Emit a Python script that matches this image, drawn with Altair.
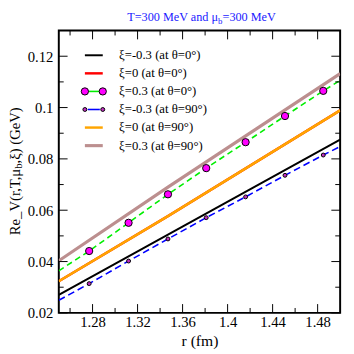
import altair as alt
import pandas as pd

# ---------------- data ----------------
x_line = [1.25, 1.347, 1.5]
black_v = [0.0270, 0.0505, 0.0875]      # xi=-0.3, theta=0
red_v = [0.0323, 0.0577, 0.0989]        # xi=0, theta=0
orange_v = [0.0323, 0.0577, 0.0989]     # xi=0, theta=90
brown_v = [0.0403, 0.0690, 0.1132]      # xi=0.3, theta=90

x_pts = [1.25, 1.277, 1.312, 1.347, 1.381, 1.416, 1.451, 1.485, 1.5]
green_v = [0.0364, 0.0441, 0.0551, 0.0662, 0.0764, 0.0865, 0.0967, 0.1065, 0.1106]  # xi=0.3, theta=0
blue_v = [0.0249, 0.0314, 0.0402, 0.0488, 0.0571, 0.0652, 0.0736, 0.0815, 0.0848]   # xi=-0.3, theta=90
marker_idx = [1, 2, 3, 4, 5, 6, 7]

x_major = [1.28, 1.32, 1.36, 1.4, 1.44, 1.48]
x_minor = [1.26, 1.30, 1.34, 1.38, 1.42, 1.46]
y_major = [0.02, 0.04, 0.06, 0.08, 0.1, 0.12]
y_minor = [0.03, 0.05, 0.07, 0.09, 0.11]

legend_labels = [
    "ξ=-0.3 (at θ=0°)",
    "ξ=0 (at θ=0°)",
    "ξ=0.3 (at θ=0°)",
    "ξ=-0.3 (at θ=90°)",
    "ξ=0 (at θ=90°)",
    "ξ=0.3 (at θ=90°)",
]

W, H = 288, 289
FONT = "Liberation Serif, Times New Roman, serif"

xscale = alt.Scale(domain=[1.25, 1.5], nice=False, zero=False)
yscale = alt.Scale(domain=[0.02, 0.13], nice=False, zero=False)

xaxis = alt.Axis(values=x_major, format="~g", ticks=False, domain=False, grid=False,
                 labelFont=FONT, labelFontSize=15, labelColor="black", labelPadding=2,
                 labelFlush=False, title="r (fm)", titleFont=FONT, titleFontSize=16,
                 titleFontWeight="normal", titleColor="black", titlePadding=3)
yaxis = alt.Axis(values=y_major, format="~g", ticks=False, domain=False, grid=False,
                 labelFont=FONT, labelFontSize=15, labelColor="black", labelPadding=6,
                 labelFlush=False, title=None)


def line_layer(xs, ys, color, width, dash=None):
    df = pd.DataFrame({"r": xs, "v": ys})
    kw = dict(color=color, strokeWidth=width, clip=True)
    if dash:
        kw["strokeDash"] = dash
    return alt.Chart(df).mark_line(**kw).encode(
        x=alt.X("r:Q", scale=xscale, axis=xaxis),
        y=alt.Y("v:Q", scale=yscale, axis=yaxis),
    )


def point_layer(xs, ys, fill, size):
    df = pd.DataFrame({"r": xs, "v": ys})
    return alt.Chart(df).mark_circle(color=fill, stroke="black", strokeWidth=1,
                                     size=size, opacity=1).encode(
        x=alt.X("r:Q", scale=xscale, axis=xaxis),
        y=alt.Y("v:Q", scale=yscale, axis=yaxis),
    )


layers = []
layers.append(line_layer(x_line, brown_v, "#bc8f8f", 3.2))
layers.append(line_layer(x_pts, green_v, "#00ee00", 1.6, [6, 4]))
layers.append(line_layer(x_line, red_v, "#ff0000", 2.5))
layers.append(line_layer(x_line, orange_v, "#ffa500", 2.5))
layers.append(line_layer(x_line, black_v, "#000000", 2))
layers.append(line_layer(x_pts, blue_v, "#0000ff", 1.6, [7, 4]))
layers.append(point_layer([x_pts[i] for i in marker_idx], [green_v[i] for i in marker_idx], "#ff00ff", 55))
layers.append(point_layer([x_pts[i] for i in marker_idx], [blue_v[i] for i in marker_idx], "#c030c0", 16))


# ticks (inward, on all four sides)
def xtick(vals, length):
    df = pd.DataFrame({"r": vals})
    enc_x = alt.X("r:Q", scale=xscale, axis=xaxis)
    bot = alt.Chart(df).mark_rule(color="black", strokeWidth=1).encode(
        x=enc_x, y=alt.value(H), y2=alt.value(H - length))
    top = alt.Chart(df).mark_rule(color="black", strokeWidth=1).encode(
        x=enc_x, y=alt.value(0), y2=alt.value(length))
    return [bot, top]


def ytick(vals, length):
    df = pd.DataFrame({"v": vals})
    enc_y = alt.Y("v:Q", scale=yscale, axis=yaxis)
    left = alt.Chart(df).mark_rule(color="black", strokeWidth=1).encode(
        y=enc_y, x=alt.value(0), x2=alt.value(length))
    right = alt.Chart(df).mark_rule(color="black", strokeWidth=1).encode(
        y=enc_y, x=alt.value(W), x2=alt.value(W - length))
    return [left, right]


layers += xtick(x_major, 9) + xtick(x_minor, 5) + ytick(y_major, 9) + ytick(y_minor, 5)

# legend (manual, inside the plot at top-left)
one = pd.DataFrame({"a": [0]})
leg_y0, leg_dy = 25.3, 18.5
sx1, sx2, tx = 26.7, 45, 61.7
styles = [
    dict(color="#000000", w=2, dash=None, pt=None),
    dict(color="#ff0000", w=2.5, dash=None, pt=None),
    dict(color="#00ee00", w=1.6, dash=[6, 4], pt=("#ff00ff", 55)),
    dict(color="#0000ff", w=1.6, dash=[7, 4], pt=("#c030c0", 16)),
    dict(color="#ffa500", w=2.5, dash=None, pt=None),
    dict(color="#bc8f8f", w=3.2, dash=None, pt=None),
]
for i, (lab, st) in enumerate(zip(legend_labels, styles)):
    ly = leg_y0 + i * leg_dy
    kw = dict(color=st["color"], strokeWidth=st["w"])
    if st["pt"] is not None:
        seg = alt.Chart(one).mark_rule(**kw).encode(
            x=alt.value(sx1 + 3), x2=alt.value(sx2 - 3), y=alt.value(ly))
    else:
        seg = alt.Chart(one).mark_rule(**kw).encode(
            x=alt.value(sx1), x2=alt.value(sx2), y=alt.value(ly))
    layers.append(seg)
    if st["pt"] is not None:
        for px in (sx1, sx2):
            layers.append(alt.Chart(one).mark_circle(color=st["pt"][0], stroke="black",
                                                     strokeWidth=1, size=st["pt"][1], opacity=1).encode(
                x=alt.value(px), y=alt.value(ly)))
    layers.append(alt.Chart(pd.DataFrame({"t": [lab]})).mark_text(
        align="left", baseline="middle", font=FONT, fontSize=13, color="black").encode(
        x=alt.value(tx), y=alt.value(ly), text="t:N"))

# title: T=300 MeV and μ_b=300 MeV
TFS = 12.5
title_p = 163.0
title_y = -10
tcol = "#1a1aff"
layers.append(alt.Chart(pd.DataFrame({"t": ["T=300 MeV and μ"]})).mark_text(
    align="right", baseline="alphabetic", font=FONT, fontSize=TFS, color=tcol).encode(
    x=alt.value(title_p), y=alt.value(title_y), text="t:N"))
layers.append(alt.Chart(pd.DataFrame({"t": ["b"]})).mark_text(
    align="left", baseline="alphabetic", font=FONT, fontSize=9, color=tcol).encode(
    x=alt.value(title_p), y=alt.value(title_y + 3.5), text="t:N"))
layers.append(alt.Chart(pd.DataFrame({"t": ["=300 MeV"]})).mark_text(
    align="left", baseline="alphabetic", font=FONT, fontSize=TFS, color=tcol).encode(
    x=alt.value(title_p + 4.6), y=alt.value(title_y), text="t:N"))

# y-axis title: Re_V(r,T,μ_b,ξ) (GeV), rotated
YFS = 15
yt_x = -45
yt_p = 141.5
layers.append(alt.Chart(pd.DataFrame({"t": ["Re_V(r,T,μ"]})).mark_text(
    align="right", baseline="middle", angle=270, font=FONT, fontSize=YFS, color="black").encode(
    x=alt.value(yt_x), y=alt.value(yt_p), text="t:N"))
layers.append(alt.Chart(pd.DataFrame({"t": ["b"]})).mark_text(
    align="left", baseline="middle", angle=270, font=FONT, fontSize=11, color="black").encode(
    x=alt.value(yt_x + 4), y=alt.value(yt_p), text="t:N"))
layers.append(alt.Chart(pd.DataFrame({"t": [",ξ) (GeV)"]})).mark_text(
    align="left", baseline="middle", angle=270, font=FONT, fontSize=YFS, color="black").encode(
    x=alt.value(yt_x), y=alt.value(yt_p - 5.5), text="t:N"))

chart = alt.layer(*layers).properties(
    width=W, height=H,
    autosize=alt.AutoSizeParams(type="none"),
    padding={"left": 52, "top": 19, "right": 6, "bottom": 38},
    background="white",
).configure_view(stroke="black", strokeWidth=2)

chart.save("out.html", embed_options={"renderer": "svg", "actions": False})
